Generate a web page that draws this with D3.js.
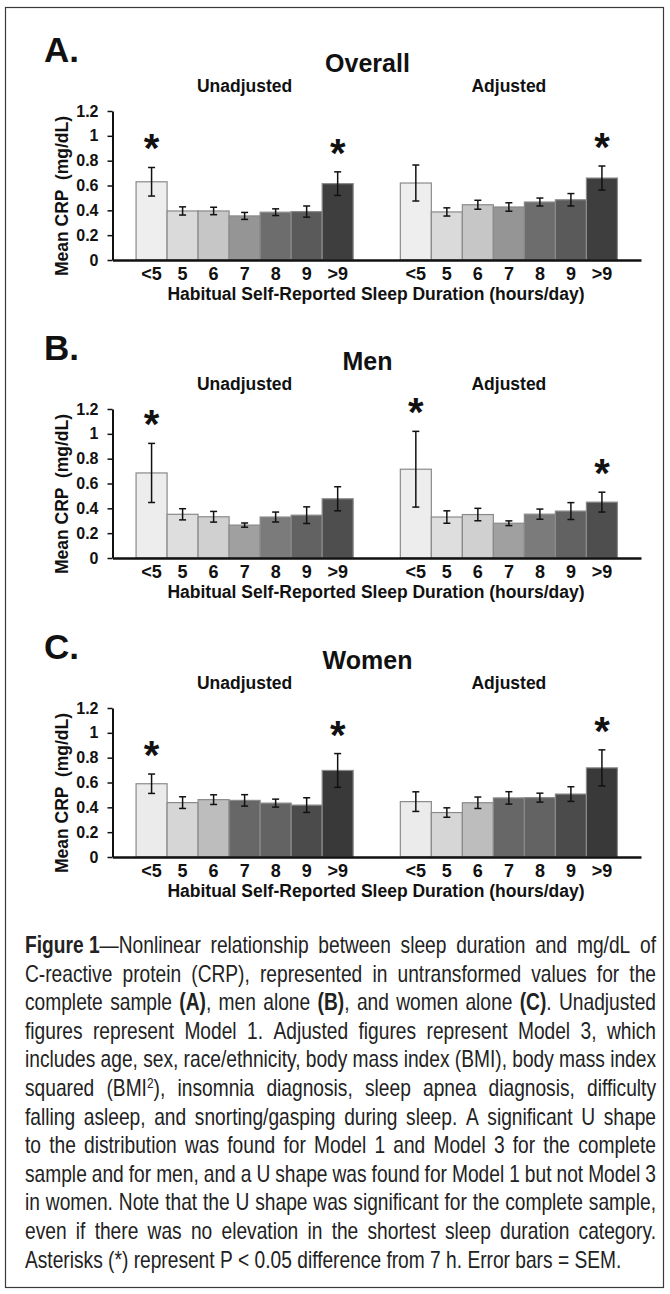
<!DOCTYPE html>
<html><head><meta charset="utf-8">
<script src="https://cdn.jsdelivr.net/npm/d3@7"></script>
<style>
html,body{margin:0;padding:0;background:#fff;}
svg{display:block;}
</style></head><body>
<svg id="chart" width="670" height="1294"></svg>
<script>
// ---------- DATA ----------
const categories = ["<5", "5", "6", "7", "8", "9", ">9"];
const models = ["Unadjusted", "Adjusted"];
const panelTitles = ["Overall", "Men", "Women"];
const panelLetters = ["A.", "B.", "C."];
const yTickValues = [0, 0.2, 0.4, 0.6, 0.8, 1, 1.2];
const yTickLabels = ["0", "0.2", "0.4", "0.6", "0.8", "1", "1.2"];
const yAxisTitle = "Mean CRP  (mg/dL)";
const xAxisTitle = "Habitual Self-Reported Sleep Duration (hours/day)";

const overallUnadjMean = [0.63, 0.395, 0.395, 0.355, 0.385, 0.39, 0.615];
const overallUnadjSem  = [0.115, 0.033, 0.030, 0.028, 0.027, 0.045, 0.095];
const overallAdjMean   = [0.62, 0.387, 0.445, 0.427, 0.467, 0.485, 0.66];
const overallAdjSem    = [0.145, 0.033, 0.036, 0.034, 0.032, 0.050, 0.097];
const menUnadjMean     = [0.685, 0.352, 0.332, 0.265, 0.33, 0.345, 0.477];
const menUnadjSem      = [0.238, 0.045, 0.043, 0.017, 0.040, 0.067, 0.097];
const menAdjMean       = [0.715, 0.33, 0.35, 0.28, 0.353, 0.378, 0.45];
const menAdjSem        = [0.305, 0.050, 0.050, 0.019, 0.041, 0.068, 0.080];
const womenUnadjMean   = [0.59, 0.438, 0.462, 0.456, 0.434, 0.418, 0.697];
const womenUnadjSem    = [0.078, 0.047, 0.039, 0.046, 0.032, 0.059, 0.136];
const womenAdjMean     = [0.446, 0.358, 0.437, 0.476, 0.478, 0.507, 0.718];
const womenAdjSem      = [0.079, 0.038, 0.046, 0.050, 0.036, 0.059, 0.145];

const overallUnadjSig = ["<5", ">9"];
const overallAdjSig   = [">9"];
const menUnadjSig     = ["<5"];
const menAdjSig       = ["<5", ">9"];
const womenUnadjSig   = ["<5", ">9"];
const womenAdjSig     = [">9"];

const captionLines = [
  "{b}Figure\u00a01{/b}—Nonlinear relationship between sleep duration and mg/dL of",
  "C-reactive protein (CRP), represented in untransformed values for the",
  "complete sample {b}(A){/b}, men alone {b}(B){/b}, and women alone {b}(C){/b}. Unadjusted",
  "figures represent Model 1. Adjusted figures represent Model 3, which",
  "includes age, sex, race/ethnicity, body mass index (BMI), body mass index",
  "squared (BMI{s}2{/s}), insomnia diagnosis, sleep apnea diagnosis, difficulty",
  "falling asleep, and snorting/gasping during sleep. A significant U shape",
  "to the distribution was found for Model 1 and Model 3 for the complete",
  "sample and for men, and a U shape was found for Model 1 but not Model 3",
  "in women. Note that the U shape was significant for the complete sample,",
  "even if there was no elevation in the shortest sleep duration category.",
  "Asterisks (*) represent P < 0.05 difference from 7 h. Error bars = SEM."
];

// ---------- STRUCTURE / STYLE ----------
const panels = [
  {title: panelTitles[0], letter: panelLetters[0], series: [
    {model: models[0], mean: overallUnadjMean, sem: overallUnadjSem, sig: overallUnadjSig},
    {model: models[1], mean: overallAdjMean, sem: overallAdjSem, sig: overallAdjSig}]},
  {title: panelTitles[1], letter: panelLetters[1], series: [
    {model: models[0], mean: menUnadjMean, sem: menUnadjSem, sig: menUnadjSig},
    {model: models[1], mean: menAdjMean, sem: menAdjSem, sig: menAdjSig}]},
  {title: panelTitles[2], letter: panelLetters[2], series: [
    {model: models[0], mean: womenUnadjMean, sem: womenUnadjSem, sig: womenUnadjSig},
    {model: models[1], mean: womenAdjMean, sem: womenAdjSem, sig: womenAdjSig}]}
];
const panelOffsets = [0, 298, 597];
const barColors = [
  ["#eeeeee", "#dadada", "#c6c6c6", "#959595", "#6d6d6d", "#5a5a5a", "#3e3e3e"],
  ["#ededed", "#dedede", "#d0d0d0", "#a0a0a0", "#7b7b7b", "#626262", "#4e4e4e"],
  ["#ebebeb", "#d6d6d6", "#bdbdbd", "#676767", "#636363", "#4b4b4b", "#393939"]
];
const FONT = "'Liberation Sans', Arial, Helvetica, sans-serif";

const svg = d3.select("#chart");
svg.append("rect").attr("x", 5.5).attr("y", 7.5).attr("width", 658).attr("height", 1280)
  .attr("fill", "none").attr("stroke", "#3a3a3a").attr("stroke-width", 1.2);

const y = d3.scaleLinear().domain([0, 1.2]).range([260, 111]);
const outer = d3.scaleBand().domain(models).range([112.5, 641]).paddingInner(0).paddingOuter(0);
const inner = d3.scaleBand().domain(categories).range([0, outer.bandwidth()]).paddingInner(0).paddingOuter(0.76);

panels.forEach((p, pi) => {
  const g = svg.append("g").attr("transform", `translate(0,${panelOffsets[pi]})`)
    .style("font-family", FONT).attr("font-weight", "bold").attr("fill", "#111");

  g.append("text").attr("x", 44).attr("y", 62).attr("font-size", 35).text(p.letter);
  g.append("text").attr("x", 367.5).attr("y", 72).attr("font-size", 25).attr("text-anchor", "middle").text(p.title);
  models.forEach(m => {
    g.append("text").attr("x", outer(m) + outer.bandwidth() / 2).attr("y", 92)
      .attr("font-size", 17.5).attr("text-anchor", "middle").text(m);
  });

  // bars, error bars, stars
  p.series.forEach(s => {
    const sg = g.append("g").attr("transform", `translate(${outer(s.model)},0)`);
    const rows = categories.map((c, i) => ({c, i, mean: s.mean[i], sem: s.sem[i], sig: s.sig.includes(c)}));
    sg.selectAll("rect.bar").data(rows).join("rect").attr("class", "bar")
      .attr("x", d => inner(d.c)).attr("width", inner.bandwidth())
      .attr("y", d => y(d.mean)).attr("height", d => y(0) - y(d.mean))
      .attr("fill", d => barColors[pi][d.i]).attr("stroke", "#8a8a8a").attr("stroke-width", 1.2);
    const eb = sg.selectAll("g.err").data(rows).join("g").attr("class", "err")
      .attr("stroke", "#111").attr("stroke-width", 1.5);
    const cx = d => inner(d.c) + inner.bandwidth() / 2;
    eb.append("line").attr("x1", cx).attr("x2", cx).attr("y1", d => y(d.mean - d.sem)).attr("y2", d => y(d.mean + d.sem));
    eb.append("line").attr("x1", d => cx(d) - 3.5).attr("x2", d => cx(d) + 3.5).attr("y1", d => y(d.mean + d.sem)).attr("y2", d => y(d.mean + d.sem));
    eb.append("line").attr("x1", d => cx(d) - 3.5).attr("x2", d => cx(d) + 3.5).attr("y1", d => y(d.mean - d.sem)).attr("y2", d => y(d.mean - d.sem));
    sg.selectAll("text.star").data(rows.filter(d => d.sig)).join("text").attr("class", "star")
      .attr("x", cx).attr("y", d => y(d.mean + d.sem) - 27 + 22)
      .attr("font-size", 40).attr("text-anchor", "middle").text("*");

    // category labels
    const ax = sg.append("g").attr("transform", `translate(0,${y(0)})`)
      .call(d3.axisBottom(inner).tickSize(0).tickPadding(7.2));
    ax.select(".domain").remove();
    ax.selectAll("text").attr("font-size", 18).attr("font-family", FONT).attr("font-weight", "bold").attr("fill", "#111");
  });

  // y axis
  const ya = g.append("g").attr("transform", `translate(${outer.range()[0]},0)`)
    .call(d3.axisLeft(y).tickValues(yTickValues).tickFormat((d, i) => yTickLabels[i]).tickSize(5).tickSizeOuter(0).tickPadding(9));
  ya.select(".domain").attr("stroke", "#111").attr("stroke-width", 2);
  ya.selectAll(".tick line").attr("stroke", "#111").attr("stroke-width", 1.5);
  ya.selectAll("text").attr("font-size", 16).attr("font-family", FONT).attr("font-weight", "bold").attr("fill", "#111");

  // x axis line
  const xa = g.append("g").attr("transform", `translate(0,${y(0)})`)
    .call(d3.axisBottom(outer).tickSize(0).tickSizeOuter(0).tickFormat(""));
  xa.selectAll(".tick").remove();
  xa.select(".domain").attr("stroke", "#111").attr("stroke-width", 2.5);

  g.append("text").attr("x", 376).attr("y", 300).attr("font-size", 17.5).attr("text-anchor", "middle").text(xAxisTitle);
  g.append("text").attr("transform", "translate(68,196) rotate(-90)").attr("font-size", 17.5)
    .attr("text-anchor", "middle").attr("xml:space", "preserve").style("white-space", "pre").text(yAxisTitle);
});

// ---------- CAPTION (justified) ----------
const capFontNarrow = "'Liberation Sans Narrow', 'Arial Narrow', sans-serif";
const capG = svg.append("g").attr("fill", "#222");
function measure(font, size, str) {
  const t = svg.append("text").style("font-family", font).attr("font-size", size).text(str);
  const w = t.node().getComputedTextLength(); t.remove(); return w;
}
const probe = "Nonlinear relationship between";
const wNarrow = measure(capFontNarrow, 22, probe), wWide = measure(FONT, 22, probe);
const hasNarrow = wNarrow < wWide * 0.92;
const capFont = hasNarrow ? capFontNarrow : FONT;
const sx = hasNarrow ? 1 : 0.82;
const capSize = 23.4;
const capX = 25, capW = 631, capY0 = 953, capDY = 28.6;

function parse(str) {
  const parts = str.split(/(\{\/?[bs]\})/);
  let bold = false, sup = false;
  const words = []; let cur = [];
  parts.forEach(pt => {
    if (pt === "{b}") { bold = true; return; }
    if (pt === "{/b}") { bold = false; return; }
    if (pt === "{s}") { sup = true; return; }
    if (pt === "{/s}") { sup = false; return; }
    const chunks = pt.split(" ");
    chunks.forEach((ch, k) => {
      if (k > 0) { if (cur.length) words.push(cur); cur = []; }
      if (ch.length) cur.push({t: ch, bold, sup});
    });
  });
  if (cur.length) words.push(cur);
  return words;
}
const spaceW = measure(capFont, capSize, "a a") - measure(capFont, capSize, "aa");
captionLines.forEach((line, li) => {
  const words = parse(line);
  const lg = capG.append("g").attr("transform", `translate(${capX},${capY0 + li * capDY}) scale(${sx},1)`);
  const nodes = words.map(w => {
    const t = lg.append("text").style("font-family", capFont).attr("font-size", capSize)
      .attr("xml:space", "preserve").style("white-space", "pre");
    w.forEach(r => {
      const ts = t.append("tspan").text(r.t);
      if (r.bold) ts.attr("font-weight", "bold");
      if (r.sup) ts.attr("font-size", capSize * 0.62).attr("baseline-shift", "super");
    });
    return {t, w: t.node().getComputedTextLength()};
  });
  const total = d3.sum(nodes, n => n.w);
  const last = li === captionLines.length - 1;
  const avail = capW / sx;
  const gap = last ? spaceW : (avail - total) / (nodes.length - 1);
  let x = 0;
  nodes.forEach(n => { n.t.attr("x", x); x += n.w + gap; });
});
</script>
</body></html>
